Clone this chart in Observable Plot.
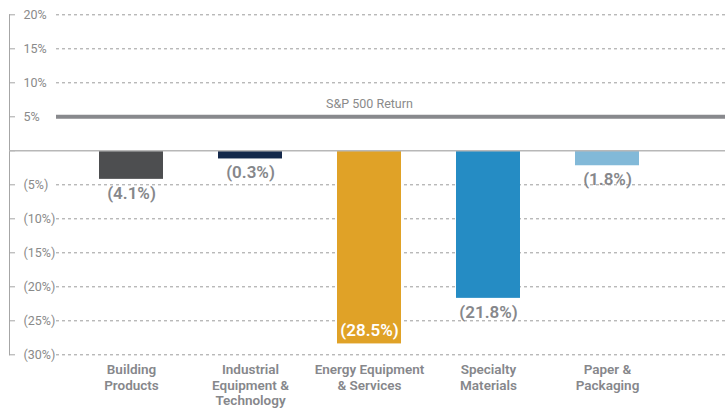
<!DOCTYPE html>
<html><head><meta charset="utf-8">
<script src="https://cdn.jsdelivr.net/npm/d3@7"></script>
<script src="https://cdn.jsdelivr.net/npm/@observablehq/plot@0.6"></script>
<style>body{margin:0;background:#fff}</style>
</head><body><div id="chart"></div>
<script>
// ---- data ----
const sectors = ["Building Products", "Industrial Equipment & Technology", "Energy Equipment & Services", "Specialty Materials", "Paper & Packaging"];
const axisLabels = ["Building\nProducts", "Industrial\nEquipment &\nTechnology", "Energy Equipment\n& Services", "Specialty\nMaterials", "Paper &\nPackaging"];
const returns = [-4.1, -0.3, -28.5, -21.8, -1.8];        // printed value labels
const barValues = [-4.2, -1.2, -28.4, -21.7, -2.2];      // bar lengths as drawn
const colors = ["#4d4e50", "#14294b", "#e0a227", "#258cc4", "#82b9d8"];
const yTicks = [20, 15, 10, 5, 0, -5, -10, -15, -20, -25, -30];
const spReturn = 5;
const spLabel = "S&P 500 Return";

const data = sectors.map((s, i) => ({sector: s, bar: barValues[i], ret: returns[i], color: colors[i]}));
const fmtPct = v => v === 0 ? "" : v < 0 ? `(${-v}%)` : `${v}%`;
const fmtRet = v => `(${Math.abs(v).toFixed(1)}%)`;
const gray = "#86878b";

const chart = Plot.plot({
  width: 725, height: 410,
  marginTop: 14.3, marginBottom: 55.7, marginLeft: 56, marginRight: 0,
  style: {fontFamily: "Roboto, sans-serif", background: "#fff"},
  x: {domain: sectors, range: [98, 640], paddingInner: 0.464, paddingOuter: 0, axis: null},
  y: {domain: [-30, 20], axis: null, label: null},
  color: {type: "identity"},
  marks: [
    Plot.gridY(yTicks.filter(d => d !== 0 && d !== spReturn), {stroke: "#9c9c9c", strokeOpacity: 1, strokeDasharray: "3,3"}),
    Plot.frame({anchor: "left", dx: -47, stroke: "#a6a6a6"}),
    Plot.axisY(yTicks, {
      tickSize: -6, tickPadding: -8, dx: -47, textAnchor: "start",
      tickFormat: fmtPct, fontSize: 12.5, fill: "#8a8a8a", stroke: "#a6a6a6", label: null
    }),
    Plot.barY(data, {x: "sector", y: "bar", fill: "color"}),
    Plot.ruleY([0], {stroke: "#b8b8b8", strokeWidth: 1.5, insetLeft: -47}),
    Plot.ruleY([spReturn], {stroke: "#88898d", strokeWidth: 4}),
    Plot.text([{label: spLabel, y: spReturn}], {x: () => sectors[2], y: "y", text: "label", dy: -13, fontSize: 12.5, fill: "#8a8a8a"}),
    Plot.text(data.filter(d => d.bar > -25), {x: "sector", y: "bar", text: d => fmtRet(d.ret), dy: 14, fontSize: 17, fontWeight: 600, fill: gray}),
    Plot.text(data.filter(d => d.bar <= -25), {x: "sector", y: "bar", text: d => fmtRet(d.ret), dy: -13, fontSize: 17, fontWeight: 600, fill: "#fff"}),
    Plot.axisX(sectors, {
      tickSize: 0, tickPadding: 8.7, tickFormat: s => axisLabels[sectors.indexOf(s)],
      fontSize: 13.5, fontWeight: 600, fill: gray, lineHeight: 1.14, label: null
    })
  ]
});
document.getElementById("chart").append(chart);
</script>
</body></html>
